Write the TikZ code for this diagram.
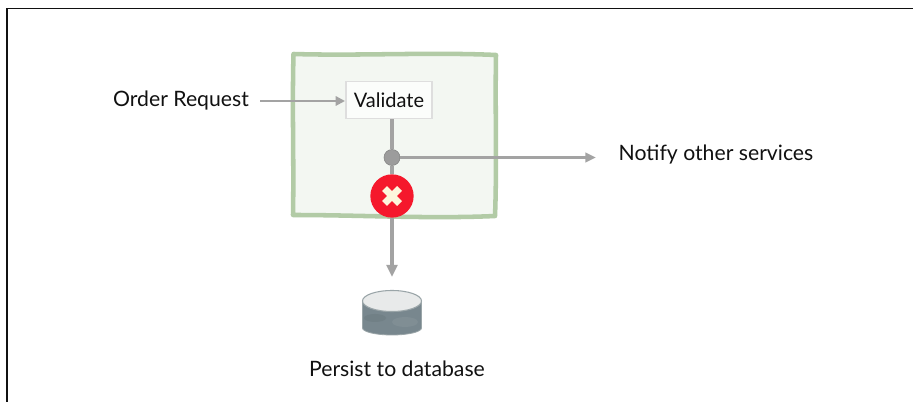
\documentclass[tikz,border=0pt]{standalone}
\usepackage{fontspec}
\setmainfont{Lato}
\usetikzlibrary{arrows.meta,shapes.geometric}
\definecolor{framegreen}{HTML}{B2CBA6}
\definecolor{panelgreen}{HTML}{F3F7F2}
\definecolor{linegray}{HTML}{A3A3A3}
\definecolor{dotgray}{HTML}{9C9C9C}
\definecolor{boxedge}{HTML}{DEDEDE}
\definecolor{errred}{HTML}{F5182C}
\definecolor{crosscream}{HTML}{FDF6DC}
\definecolor{dbtop}{HTML}{E8EAEA}
\definecolor{dbside}{HTML}{78878E}
\definecolor{dbedge}{HTML}{9AA5A8}
\definecolor{inkblack}{HTML}{111111}
\tikzset{
  flow/.style={draw=linegray,line width=2.4pt},
  thinarrow/.style={draw=linegray,line width=1.6pt,-{Triangle[length=7pt,width=7pt]}},
  midarrow/.style={draw=linegray,line width=2pt,-{Triangle[length=8pt,width=7pt]}},
  downarrow/.style={flow,-{Triangle[length=9pt,width=8pt]}},
  label/.style={text=inkblack,font=\fontsize{15.9}{18}\selectfont,inner sep=0pt,anchor=center},
  validatebox/.style={draw=boxedge,line width=.9pt,fill=white!70!panelgreen,minimum width=64.5pt,minimum height=28pt,inner sep=0pt,text=inkblack,font=\fontsize{15}{18}\selectfont},
  junction/.style={circle,fill=dotgray,draw=linegray!80!black,line width=.4pt,minimum size=12pt,inner sep=0pt},
  errdot/.style={circle,fill=errred,minimum size=32.5pt,inner sep=0pt},
}
\begin{document}
\begin{tikzpicture}[x=.75pt,y=-.75pt]
\useasboundingbox (0,0) rectangle (913,402);
\fill[white] (0,0) rectangle (913,402);
% outer border
\draw[inkblack,line width=.9pt] (7,402) -- (7,8.5) -- (913,8.5);
% green panel
\draw[draw=framegreen,fill=panelgreen,line width=3.4pt,line join=round]
  (293.5,54) .. controls (360,56) and (430,52) .. (496,55)
  .. controls (495,110) and (497,165) .. (495,216)
  .. controls (430,219) and (360,215) .. (293,215)
  .. controls (294,160) and (292,110) .. (293.5,54) -- cycle;
\node[validatebox] (validate) at (389,100) {Validate};
\node[junction] (junc) at (392,157.5) {};
\node[errdot] (err) at (392,196) {};
\coordinate (notifytip) at (596,157.5);
\coordinate (dbtip) at (392,277);
\coordinate (ordertail) at (260,101);
\coordinate (ordertip) at (345,101);
% database
\coordinate (dbcenter) at (392,301);
\fill[dbside,draw=dbedge,line width=.6pt] (dbcenter |- 0,328) ellipse[x radius=29.5,y radius=7];
\fill[dbside] (362.5,301) rectangle (421.5,328);
\draw[dbedge,line width=.6pt] (362.5,301) -- (362.5,328) (421.5,301) -- (421.5,328);
\fill[dbside!85!black,opacity=.35] (375,318) ellipse[x radius=11,y radius=4];
\fill[dbside!85!white,opacity=.4] (405,322) ellipse[x radius=13,y radius=5];
\fill[dbtop,draw=dbedge,line width=.8pt] (dbcenter) ellipse[x radius=29.5,y radius=10.5];
% cross
\draw[crosscream,line width=5.2pt] ([shift={(-7.5,-7.5)}]err.center) -- ([shift={(7.5,7.5)}]err.center);
\draw[crosscream,line width=5.2pt] ([shift={(-7.5,7.5)}]err.center) -- ([shift={(7.5,-7.5)}]err.center);
% labels
\node[label] (order) at (181,100.5) {Order Request};
\node[label] (notify) at (716,155) {Notify other services};
\node[label] (persist) at (397,369) {Persist to database};
% connectors
\draw[thinarrow] (ordertail) -- (ordertip);
\draw[flow] (validate.south -| junc) -- (junc);
\draw[flow] (junc) -- (err);
\draw[midarrow] (junc) -- (notifytip);
\draw[downarrow] (err) -- (dbtip);
\end{tikzpicture}
\end{document}
